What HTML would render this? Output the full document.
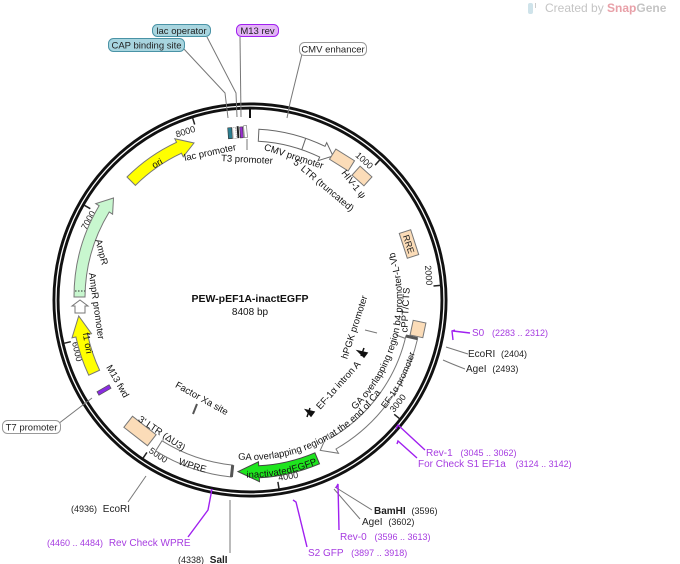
<!DOCTYPE html>
<html><head><meta charset="utf-8"><style>
html,body{margin:0;padding:0;background:#fff;}
svg{display:block;font-family:"Liberation Sans","DejaVu Sans",sans-serif;}
</style></head><body>
<svg width="680" height="564" viewBox="0 0 680 564" xmlns="http://www.w3.org/2000/svg">
<defs>
<path id="pGA1" d="M 231.6,458.9 A 160,160 0 0 0 384.4,387.3"/>
<path id="pGA2" d="M 347.7,416.5 A 152,152 0 0 0 391.0,242.9"/>
<path id="pEF" d="M 360.2,434.5 A 172,172 0 0 0 406.9,229.8"/>
<path id="pGFP" d="M 240,474 A 174,174 0 0 0 322,458"/>
<path id="pWPRE" d="M 156,449 A 174,174 0 0 0 232,473"/>
</defs>

<!-- Created by -->
<rect x="528" y="3" width="5" height="11" rx="2" fill="#cfe3ea"/>
<rect x="535" y="3" width="1" height="5" fill="#ccc"/>
<text x="545" y="12" font-size="12" fill="#c4c4c4">Created by <tspan fill="#e8a0a8" font-weight="bold">Snap</tspan><tspan fill="#c4c4c4" font-weight="bold">Gene</tspan></text>

<!-- backbone -->
<circle cx="250" cy="300" r="194" fill="none" stroke="#111" stroke-width="7"/>
<circle cx="250" cy="300" r="194" fill="none" stroke="#fff" stroke-width="1.3"/>

<!-- ticks -->
<g stroke="#222" stroke-width="1.5">
<line x1="379.8" y1="159.9" x2="375.1" y2="165.1"/>
<line x1="440.4" y1="285.4" x2="433.5" y2="286"/>
<line x1="399.7" y1="418.8" x2="394.2" y2="414.3"/>
<line x1="279" y1="488.8" x2="277.9" y2="481.9"/>
<line x1="143" y1="458.2" x2="146.9" y2="452.4"/>
<line x1="64" y1="343.3" x2="70.8" y2="341.7"/>
<line x1="84.2" y1="205.2" x2="90.3" y2="208.7"/>
<line x1="192.6" y1="117.8" x2="194.7" y2="124.5"/>
</g>
<g font-size="9" fill="#222">
<text transform="translate(375.1,165.1) rotate(42.8)" x="-1" y="7" text-anchor="end">1000</text>
<text transform="translate(433.5,286) rotate(85.6)" x="-1" y="7" text-anchor="end">2000</text>
<text transform="translate(394.2,414.3) rotate(-51.6)" x="1" y="-1" text-anchor="start">3000</text>
<text transform="translate(277.9,481.9) rotate(-8.8)" x="1" y="-1" text-anchor="start">4000</text>
<text transform="translate(146.9,452.4) rotate(34)" x="1" y="-1" text-anchor="start">5000</text>
<text transform="translate(70.8,341.7) rotate(76.9)" x="1" y="-1" text-anchor="start">6000</text>
<text transform="translate(90.3,208.7) rotate(-60.3)" x="-1" y="7" text-anchor="end">7000</text>
<text transform="translate(194.7,124.5) rotate(-17.5)" x="-1" y="7" text-anchor="end">8000</text>
</g>

<!-- leader lines -->
<g stroke="#777" stroke-width="1" fill="none">
<polyline points="183,48 225,93 228,118"/>
<polyline points="207,37 236,93 237,117"/>
<polyline points="240,37 241,117"/>
<polyline points="302,54 290,103 287,118"/>
<line x1="92" y1="398" x2="58" y2="424"/>
<line x1="446" y1="347" x2="468" y2="354"/>
<path d="M443,360 Q452,364 465,369"/>
<line x1="335" y1="487" x2="372" y2="510"/>
<line x1="334" y1="489" x2="360" y2="519"/>
<line x1="230" y1="500" x2="230" y2="553"/>
<line x1="146" y1="476" x2="128" y2="502"/>
<line x1="247" y1="139" x2="247" y2="150"/>
<line x1="365" y1="330" x2="377" y2="333"/>
<line x1="396" y1="335" x2="407" y2="339"/>
<line x1="193" y1="414" x2="197" y2="404" stroke="#555" stroke-width="2"/>
</g>
<line x1="250" y1="108" x2="250" y2="118" stroke="#111" stroke-width="2"/>

<!-- purple primers -->
<g stroke="#a020f0" stroke-width="1.4" fill="none">
<polyline points="455,330 452,331 453,340"/>
<line x1="453" y1="331" x2="470" y2="333"/>
<polyline points="396,429 398,425 425,450"/>
<polyline points="397,444 398,441 417,458"/>
<polyline points="336,488 338,484 339,530"/>
<polyline points="293,500 296,502 307,547"/>
<polyline points="211,492 212,489 208,510 188,537"/>
</g>
<g font-size="10" fill="#a63ce0">
<text x="472" y="336">S0 <tspan dx="5" font-size="9">(2283 .. 2312)</tspan></text>
<text x="426" y="456">Rev-1 <tspan dx="5" font-size="9">(3045 .. 3062)</tspan></text>
<text x="418" y="467">For Check S1 EF1a <tspan dx="7" font-size="9">(3124 .. 3142)</tspan></text>
<text x="340" y="540">Rev-0 <tspan dx="5" font-size="9">(3596 .. 3613)</tspan></text>
<text x="308" y="556">S2 GFP <tspan dx="5" font-size="9">(3897 .. 3918)</tspan></text>
<text x="47" y="546"><tspan font-size="9">(4460 .. 4484)</tspan> <tspan dx="3">Rev Check WPRE</tspan></text>
</g>
<g font-size="10" fill="#222">
<text x="468" y="357">EcoRI <tspan dx="3" font-size="9">(2404)</tspan></text>
<text x="466" y="372">AgeI <tspan dx="3" font-size="9">(2493)</tspan></text>
<text x="374" y="514"><tspan font-weight="bold">BamHI</tspan> <tspan dx="3" font-size="9">(3596)</tspan></text>
<text x="362" y="525">AgeI <tspan dx="3" font-size="9">(3602)</tspan></text>
<text x="178" y="563"><tspan font-size="9">(4338)</tspan> <tspan dx="3" font-weight="bold">SalI</tspan></text>
<text x="71" y="512"><tspan font-size="9">(4936)</tspan> <tspan dx="3">EcoRI</tspan></text>
</g>

<!-- label boxes -->
<g font-size="9.5" text-anchor="middle">
<rect x="108.5" y="38.5" width="76" height="13" rx="5" fill="#a8d5df" stroke="#4a93a6"/>
<text x="146.5" y="48.5" fill="#222">CAP binding site</text>
<rect x="152.5" y="24.5" width="58" height="12" rx="5" fill="#a8d5df" stroke="#4a93a6"/>
<text x="181.5" y="34" fill="#222">lac operator</text>
<rect x="236.5" y="24.5" width="42" height="12" rx="5" fill="#e3b3f7" stroke="#a020f0"/>
<text x="257.5" y="34" fill="#222">M13 rev</text>
<rect x="299.5" y="42.5" width="67" height="13" rx="5" fill="#fff" stroke="#999"/>
<text x="333" y="52.5" fill="#222">CMV enhancer</text>
<rect x="2.5" y="420.5" width="58" height="13" rx="5" fill="#fff" stroke="#999"/>
<text x="31.5" y="430.5" fill="#222">T7 promoter</text>
</g>

<!-- features -->
<path d="M258.9,129.2 A171,171 0 0 1 325.0,146.3 L326.7,142.7 L333,156 L318.0,160.7 L319.7,157.1 A159,159 0 0 0 258.3,141.2 Z" fill="#fff" stroke="#666" stroke-width="1"/>
<line x1="305.7" y1="138.3" x2="301.8" y2="149.7" stroke="#666"/>
<rect x="-11" y="-6" width="22" height="12" fill="#fbdcb8" stroke="#777" transform="translate(342,160) rotate(32)"/>
<rect x="-8" y="-6" width="16" height="12" fill="#fbdcb8" stroke="#777" transform="translate(362,176) rotate(42)"/>
<g transform="translate(409,244) rotate(72)"><rect x="-13" y="-6" width="26" height="12" fill="#fbdcb8" stroke="#777"/><text x="0" y="3.5" font-size="9" text-anchor="middle" fill="#222">RRE</text></g>
<rect x="-6.5" y="-7.5" width="13" height="15" fill="#fbdcb8" stroke="#777" transform="translate(418,329) rotate(12)"/>
<path d="M417.6,338.7 A172,172 0 0 1 336,449 L338.5,453.3 L320.2,450.4 L327.5,434.2 L330,438.6 A160,160 0 0 0 405.9,336 Z" fill="#fff" stroke="#777" stroke-width="1"/>
<line x1="405.9" y1="336" x2="417.6" y2="338.7" stroke="#555" stroke-width="3"/>
<path d="M319.5,463.8 A178,178 0 0 1 259.3,477.8 L259.5,481.7 L238,471.6 L258.5,461.8 L258.7,465.8 A166,166 0 0 0 314.9,452.8 Z" fill="#1ee51e" stroke="#444" stroke-width="1"/>
<path d="M231.4,477 A178,178 0 0 1 155.7,450.9 L162,440.8 A166,166 0 0 0 232.7,465.1 Z" fill="#fff" stroke="#777"/>
<line x1="232.7" y1="465.1" x2="231.4" y2="477" stroke="#555" stroke-width="3"/>
<rect x="-15" y="-7" width="30" height="14" fill="#fbdcb8" stroke="#777" transform="translate(140,431) rotate(38)"/>
<rect x="-7" y="-2" width="14" height="4" fill="#8a2be2" stroke="#555" stroke-width="0.7" transform="translate(104,390) rotate(-30)"/>
<path d="M99.6,370.2 A166,166 0 0 1 87.6,334.5 L91.5,333.7 L78.7,316 L72,337.8 L75.9,337 A178,178 0 0 0 88.7,375.2 Z" fill="#ffff00" stroke="#777"/>
<path d="M75,313 L75,306 L72,306 L80,300 L88,306 L85,306 L85,313 Z" fill="#fff" stroke="#777"/>
<path d="M85,297 A166,166 0 0 1 109.2,212 L112.6,214.2 L113.5,198 L95.7,203.6 L99.1,205.7 A178,178 0 0 0 74,297 Z" fill="#c8f7cf" stroke="#777"/>
<line x1="75" y1="291" x2="85" y2="291" stroke="#333" stroke-dasharray="1.5,1.5"/>
<path d="M127,177 A174,174 0 0 1 176.5,142.3 L174.8,138.7 L194,143 L183.2,156.8 L181.5,153.2 A162,162 0 0 0 135.4,185.4 Z" fill="#ffff00" stroke="#777"/>
<g transform="rotate(-4 240 132)">
<rect x="228" y="127" width="4" height="11" fill="#2a7f91" stroke="#333" stroke-width="0.6"/>
<rect x="233" y="127" width="3" height="11" fill="#fff" stroke="#666" stroke-width="0.6" stroke-dasharray="1,1"/>
<rect x="237" y="126" width="2" height="12" fill="#222"/>
<rect x="240" y="127" width="3" height="11" fill="#9b30d0" stroke="#333" stroke-width="0.6"/>
<rect x="244" y="126" width="3" height="12" fill="#fff" stroke="#666" stroke-width="0.6"/>
</g>
<g fill="#111" stroke="#111">
<path d="M361,356 L364,348 M358,351 L367,353 L364,357 Z" stroke-width="1.5"/>
<path d="M307,417 L310,408 M306,410 L314,412 L311,416 Z" stroke-width="1.5"/>
</g>

<!-- inner labels -->
<g font-size="9.5" fill="#111">
<text x="250" y="302" text-anchor="middle" font-weight="bold" font-size="10.5">PEW-pEF1A-inactEGFP</text>
<text x="250" y="315" text-anchor="middle" font-size="10">8408 bp</text>
<text transform="translate(157,163) rotate(-30)" text-anchor="middle" y="3.5">ori</text>
<text transform="translate(210,152) rotate(-12)" text-anchor="middle" y="3.5">lac promoter</text>
<text transform="translate(247,159) rotate(3)" text-anchor="middle" y="3.5">T3 promoter</text>
<text transform="translate(294,156) rotate(18)" text-anchor="middle" y="3.5">CMV promoter</text>
<text transform="translate(324,185) rotate(40)" text-anchor="middle" y="3.5">5' LTR (truncated)</text>
<text transform="translate(354,184) rotate(52)" text-anchor="middle" y="3.5">HIV-1 ψ</text>
<text transform="translate(354,327) rotate(-72)" text-anchor="middle" y="3.5">hPGK promoter</text>
<text transform="translate(405,310) rotate(-87)" text-anchor="middle" y="3.5">cPPT/CTS</text>
<text transform="translate(338,385) rotate(-48)" text-anchor="middle" y="3.5">EF-1α intron A</text>
<text><textPath href="#pGA2" startOffset="50%" text-anchor="middle">GA overlapping region b4 promoter-L-Vb</textPath></text>
<text><textPath href="#pGA1" startOffset="50%" text-anchor="middle">GA overlapping region at the end of Ca</textPath></text>
<text font-size="9"><textPath href="#pEF" startOffset="30%" text-anchor="middle">EF-1α promoter</textPath></text>
<text dy="3.5"><textPath href="#pGFP" startOffset="50%" text-anchor="middle">inactivatedEGFP</textPath></text>
<text dy="3.5"><textPath href="#pWPRE" startOffset="50%" text-anchor="middle">WPRE</textPath></text>
<text transform="translate(162,433) rotate(34)" text-anchor="middle" y="3.5">3' LTR (ΔU3)</text>
<text transform="translate(202,398) rotate(29)" text-anchor="middle" y="3.5">Factor Xa site</text>
<text transform="translate(118,381) rotate(60)" text-anchor="middle" y="3.5">M13 fwd</text>
<text transform="translate(88,343) rotate(80)" text-anchor="middle" y="3.5">f1 ori</text>
<text transform="translate(102,252) rotate(75)" text-anchor="middle" y="3.5">AmpR</text>
<text transform="translate(97,306) rotate(82)" text-anchor="middle" y="3.5">AmpR promoter</text>
</g>
</svg>
</body></html>
